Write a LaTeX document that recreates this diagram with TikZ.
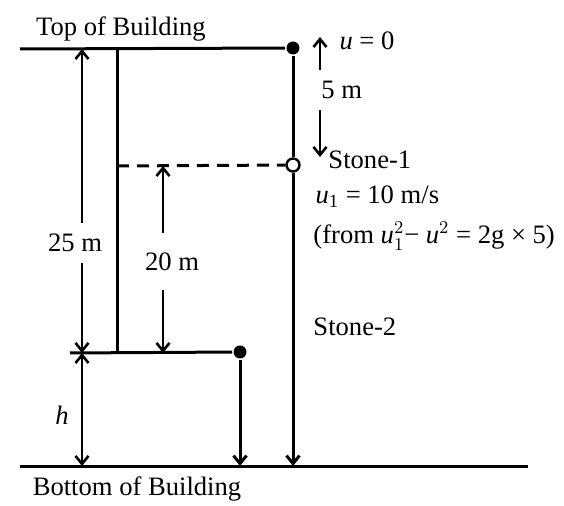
\documentclass[tikz,border=0pt]{standalone}
\usepackage{fontspec}
\setmainfont{Liberation Serif}
\usetikzlibrary{arrows.meta}
\begin{document}
\begin{tikzpicture}[x=0.5pt,y=-0.5pt,line width=1.5pt,inner sep=2pt,
    font=\fontsize{13.3}{16}\selectfont,>={Straight Barb[length=4pt,width=6.5pt]}]
    \tikzset{dot/.style={circle, fill, inner sep=0pt, minimum size=6.5pt},
      odot/.style={circle, draw, fill=white, line width=1.2pt, inner sep=0pt, minimum size=6.5pt},
      dim/.style={line width=1.3pt},
      lbl/.style={inner sep=3pt, minimum height=18.5pt}}
    \useasboundingbox (0,0) rectangle (564,506);
    % building outline
    \node (top) at (121,29) {Top of Building};
    \node (bottom) at (137,489) {Bottom of Building};
    \coordinate (tl) at (20,49);
    \coordinate (bl) at (20,467);
    \coordinate (br) at (528,467);
    \coordinate (ledge) at (70,353);
    \coordinate (wallT) at (117,49);
    \coordinate (wallB) at (117,353);
    \coordinate (wallD) at (117,166);
    % stones
    \node[dot] (s1top) at (293,48) {};
    \node[odot] (s1) at (293,165) {};
    \node[dot] (s2) at (240,352) {};
    \coordinate (s1B) at (293,466);
    \coordinate (s2B) at (240,466);
    % dimension ends
    \coordinate (j) at (82,353);
    \coordinate (a25) at (82,49);
    \coordinate (hB) at (82,466);
    \coordinate (d20) at (163,166);
    \coordinate (d20B) at (163,353);
    \coordinate (u0) at (320,37);
    \coordinate (s1a) at (320,157);
    \node[lbl] (l25) at (75,243) {25 m};
    \node[lbl, minimum height=27pt] (l20) at (172,262) {20 m};
    \node (lh) at (62,415) {\textit{h}};
    \node[lbl, right, inner sep=2pt] (l5) at (316,90) {5 m};
    % texts on the right
    \node[right] (u0l) at (334,41) {\textit{u} = 0};
    \node[right] (st1) at (323,160) {Stone-1};
    \node[right] (u1) at (310,197) {\textit{u}\textsubscript{1} = 10 m/s};
    \node[right] (from) at (308,236) {(from $\textit{u}_1^2$− \textit{u}$^2$ = 2g × 5)};
    \node[right] (st2) at (308,327) {Stone-2};
    % lines
    \draw (tl) -- (s1top);
    \draw (ledge) -- (s2);
    \draw (wallT) -- (wallB);
    \draw[dash pattern=on 6pt off 4pt] (wallD) -- (s1);
    \draw (bl) -- (br);
    \draw (s1top) -- (s1);
    \draw[->] (s1) -- (s1B);
    \draw[->] (s2) -- (s2B);
    \draw[dim,->] (l25.north -| a25) -- (a25);
    \draw[dim,->] (l25.south -| a25) -- (j);
    \draw[dim,<->] (j) -- (hB);
    \draw[dim,->] (l20.north -| d20) -- (d20);
    \draw[dim,->] (l20.south -| d20) -- (d20B);
    \draw[dim,->] (l5.north -| u0) -- (u0);
    \draw[dim,->] (l5.south -| u0) -- (s1a);
\end{tikzpicture}
\end{document}
